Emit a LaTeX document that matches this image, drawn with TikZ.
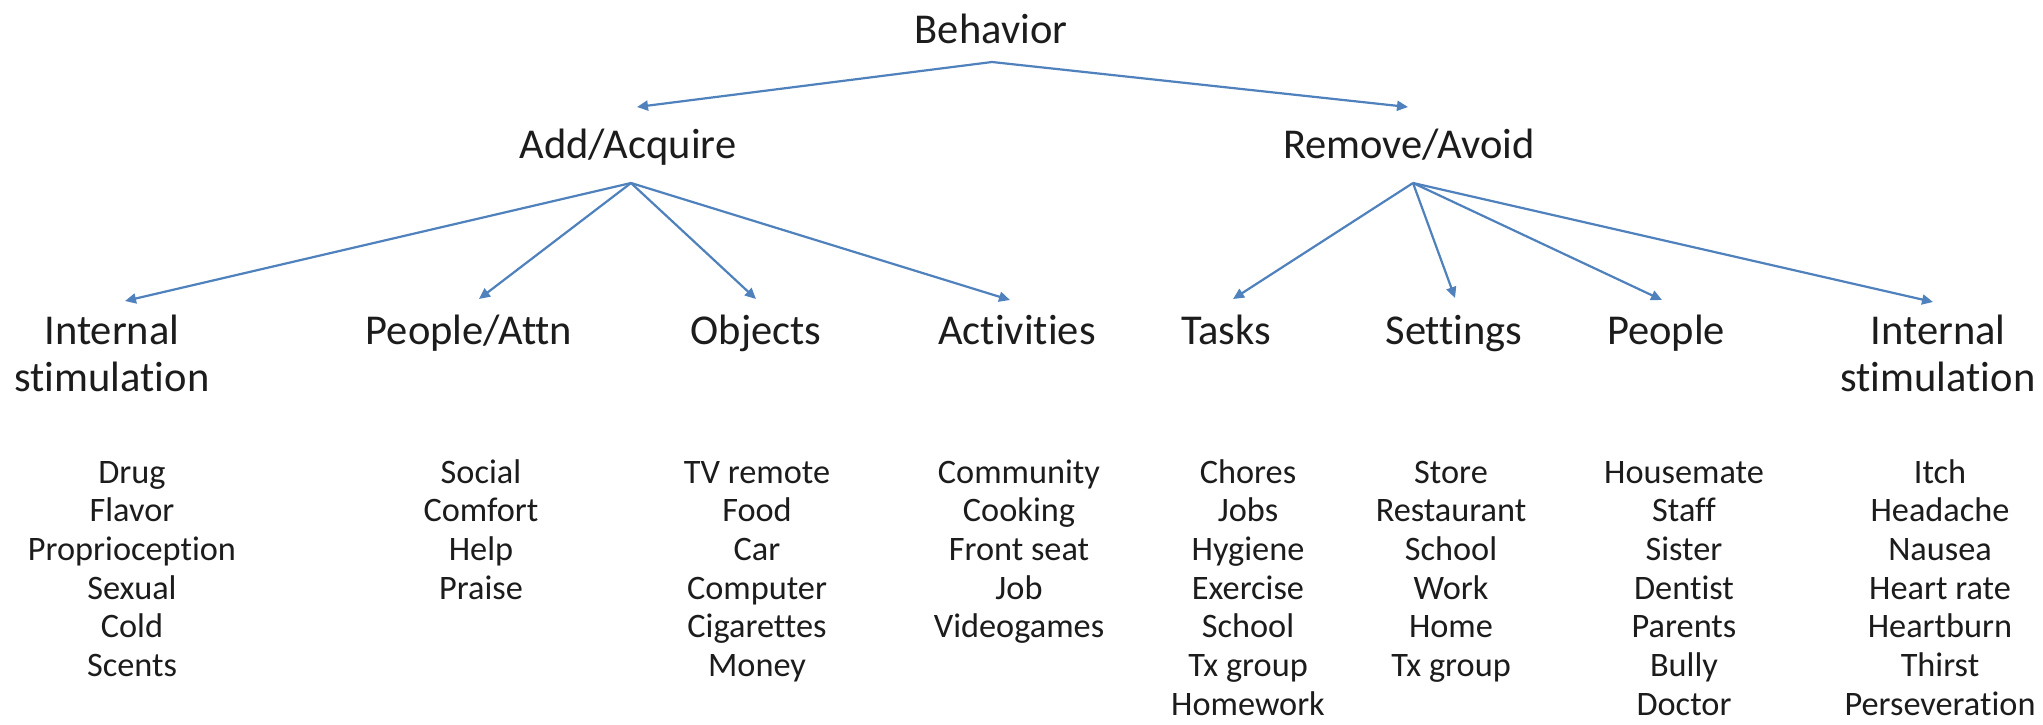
\documentclass[tikz,border=0pt]{standalone}
\usepackage{fontspec}
\setmainfont{Carlito}[Ligatures=NoCommon]
\usetikzlibrary{arrows.meta}
\definecolor{linkblue}{RGB}{79,129,189}
\definecolor{ink}{RGB}{28,28,28}
\begin{document}
\begin{tikzpicture}[x=1pt,y=-1pt,
  head/.style={font=\fontsize{42.5}{47}\selectfont, text=ink, inner sep=0pt, align=center, anchor=base},
  items/.style={font=\fontsize{34.3}{38.7}\selectfont, text=ink, inner sep=0pt, align=center, anchor=base},
  link/.style={draw=linkblue, line width=2.2pt, -{Triangle[length=11pt,width=10pt]}}]
\useasboundingbox[fill=white] (0,0) rectangle (2043,724);

% top levels
\node[head] (beh) at (991,43) {Behavior};
\node[head] (add) at (628,158) {Add/Acquire};
\node[head] (rem) at (1409,158) {Remove/Avoid};

% categories (multi-line nodes are placed by the baseline of their last line)
\node[head] (intA) at (112,391) {Internal\\stimulation};
\node[head] (ppl)  at (469,344) {People/Attn};
\node[head] (obj)  at (756,344) {Objects};
\node[head] (act)  at (1017,344) {Activities};
\node[head] (task) at (1226,344) {Tasks};
\node[head] (set)  at (1454,344) {Settings};
\node[head] (peo)  at (1666,344) {People};
\node[head] (intR) at (1938,391) {Internal\\stimulation};

% examples, first lines on y = 483, line pitch 38.7
\node[items] (l1) at (132,676.5) {Drug\\Flavor\\Proprioception\\Sexual\\Cold\\Scents};
\node[items] (l2) at (481,599.1) {Social\\Comfort\\Help\\Praise};
\node[items] (l3) at (757,676.5) {TV remote\\Food\\Car\\Computer\\Cigarettes\\Money};
\node[items] (l4) at (1019,637.8) {Community\\Cooking\\Front seat\\Job\\Videogames};
\node[items] (l5) at (1248,715.2) {Chores\\Jobs\\Hygiene\\Exercise\\School\\Tx group\\Homework};
\node[items] (l6) at (1451,676.5) {Store\\Restaurant\\School\\Work\\Home\\Tx group};
\node[items] (l7) at (1684,715.2) {Housemate\\Staff\\Sister\\Dentist\\Parents\\Bully\\Doctor};
\node[items] (l8) at (1940,715.2) {Itch\\Headache\\Nausea\\Heart rate\\Heartburn\\Thirst\\Perseveration};

% connector end points
\coordinate (beh-out) at (992,62);
\coordinate (add-in) at (637,107);
\coordinate (rem-in) at (1408,107);
\coordinate (add-out) at (631,183);
\coordinate (rem-out) at (1413,183);
\coordinate (intA-in) at (125,301);
\coordinate (ppl-in) at (479,299);
\coordinate (obj-in) at (756,299);
\coordinate (act-in) at (1010,300);
\coordinate (task-in) at (1233,299);
\coordinate (set-in) at (1455,298);
\coordinate (peo-in) at (1662,300);
\coordinate (intR-in) at (1933,302);

\draw[link] (beh-out) -- (add-in);
\draw[link] (beh-out) -- (rem-in);
\foreach \t in {intA,ppl,obj,act} \draw[link] (add-out) -- (\t-in);
\foreach \t in {task,set,peo,intR} \draw[link] (rem-out) -- (\t-in);
\end{tikzpicture}
\end{document}
